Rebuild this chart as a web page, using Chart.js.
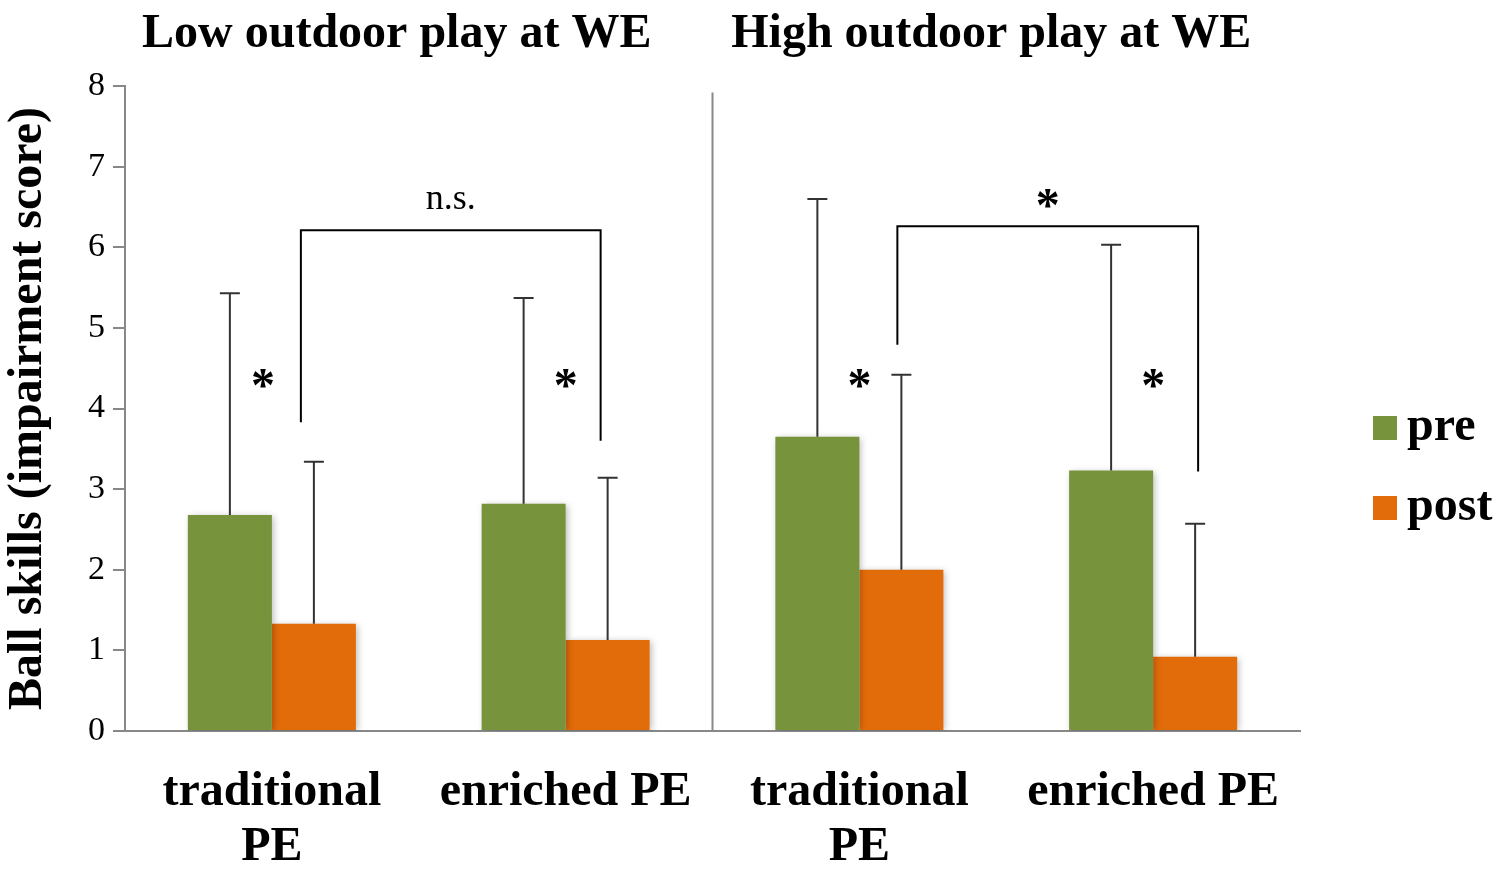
<!DOCTYPE html>
<html>
<head>
<meta charset="utf-8">
<script src="https://cdn.jsdelivr.net/npm/chart.js@4/dist/chart.umd.min.js"></script>
<style>
  html, body { margin: 0; padding: 0; background: #fff; }
  #wrap { width: 1500px; height: 874px; }
</style>
</head>
<body>
<div id="wrap"><canvas id="chart"></canvas></div>
<script>
const categories = [['traditional', 'PE'], 'enriched PE', ['traditional', 'PE'], 'enriched PE']
const preValues = [2.68, 2.82, 3.65, 3.23]
const postValues = [1.33, 1.13, 2.0, 0.92]
const preErrors = [2.75, 2.55, 2.95, 2.8]
const postErrors = [2.01, 2.01, 2.42, 1.65]
const groupTitles = ['Low outdoor play at WE', 'High outdoor play at WE']
const yTicks = [0, 1, 2, 3, 4, 5, 6, 7, 8]

// pre vs post stars per category, and the between-group brackets
const starLevel = 4.3
const brackets = [
    { from: 0, to: 1, top: 6.21, leftEnd: 3.83, rightEnd: 3.6, label: 'n.s.' },
    { from: 2, to: 3, top: 6.26, leftEnd: 4.79, rightEnd: 3.22, label: '*' }
]

const SERIF = '"Liberation Serif", "Times New Roman", serif'
const GREEN = '#77933c'
const ORANGE = '#e36c0a'

const shadowPlugin = {
    id: 'barShadow',
    beforeDatasetsDraw(chart) {
        const c = chart.ctx
        c.save()
        c.shadowColor = 'rgba(0,0,0,0.28)'
        c.shadowBlur = 7
        c.shadowOffsetX = 2
        c.shadowOffsetY = 1
    },
    afterDatasetsDraw(chart) {
        chart.ctx.restore()
    }
}

const extrasPlugin = {
    id: 'extras',
    afterDatasetsDraw(chart) {
        const c = chart.ctx
        const x = chart.scales.x
        const y = chart.scales.y
        const area = chart.chartArea

        // error bars (upper only)
        const errs = [preErrors, postErrors]
        c.save()
        c.strokeStyle = '#333'
        c.lineWidth = 2
        chart.data.datasets.forEach((ds, di) => {
            chart.getDatasetMeta(di).data.forEach((bar, i) => {
                const top = y.getPixelForValue(ds.data[i] + errs[di][i])
                c.beginPath()
                c.moveTo(bar.x, bar.y)
                c.lineTo(bar.x, top)
                c.moveTo(bar.x - 10, top)
                c.lineTo(bar.x + 10, top)
                c.stroke()
            })
        })
        c.restore()

        // divider between the two play groups
        const midX = (x.getPixelForValue(1) + x.getPixelForValue(2)) / 2
        c.save()
        c.strokeStyle = '#888'
        c.lineWidth = 2
        c.beginPath()
        c.moveTo(midX, y.getPixelForValue(7.92))
        c.lineTo(midX, area.bottom)
        c.stroke()
        c.restore()

        // group titles
        c.save()
        c.fillStyle = '#000'
        c.font = 'bold 48px ' + SERIF
        c.textAlign = 'center'
        c.textBaseline = 'middle'
        c.fillText(groupTitles[0], (area.left + midX) / 2 - 22, 35)
        c.fillText(groupTitles[1], (midX + area.right) / 2 - 15, 35)
        c.restore()

        // stars pre vs post
        c.save()
        c.fillStyle = '#000'
        c.font = 'bold 48px ' + SERIF
        c.textAlign = 'center'
        c.textBaseline = 'middle'
        categories.forEach((cat, i) => {
            c.fillText('*', x.getPixelForValue(i) - (i === 0 ? 9 : 0), y.getPixelForValue(starLevel) + 4)
        })
        c.restore()

        // brackets
        const offs = [[29, 35], [38, 45]]
        brackets.forEach((b, bi) => {
            const lx = x.getPixelForValue(b.from) + offs[bi][0]
            const rx = x.getPixelForValue(b.to) + offs[bi][1]
            const ty = y.getPixelForValue(b.top)
            c.save()
            c.strokeStyle = '#000'
            c.lineWidth = 2
            c.beginPath()
            c.moveTo(lx, y.getPixelForValue(b.leftEnd))
            c.lineTo(lx, ty)
            c.lineTo(rx, ty)
            c.lineTo(rx, y.getPixelForValue(b.rightEnd))
            c.stroke()
            c.fillStyle = '#000'
            c.textAlign = 'center'
            c.textBaseline = 'middle'
            if (b.label === '*') {
                c.font = 'bold 48px ' + SERIF
                c.fillText(b.label, (lx + rx) / 2, ty - 18)
            } else {
                c.font = '36px ' + SERIF
                c.fillText(b.label, (lx + rx) / 2, ty - 31)
            }
            c.restore()
        })

        // legend
        c.save()
        c.font = 'bold 48px ' + SERIF
        c.textBaseline = 'middle'
        c.textAlign = 'left'
        chart.data.datasets.forEach((ds, di) => {
            const cy = 428 + di * 80
            c.fillStyle = ds.backgroundColor
            c.fillRect(area.right + 73, cy - 12, 24, 24)
            c.fillStyle = '#000'
            c.fillText(ds.label, area.right + 107, cy)
        })
        c.restore()
    }
}

new Chart(document.getElementById('chart'), {
    type: 'bar',
    data: {
        labels: categories,
        datasets: [
            { label: 'pre', data: preValues, backgroundColor: GREEN },
            { label: 'post', data: postValues, backgroundColor: ORANGE }
        ]
    },
    options: {
        responsive: true,
        maintainAspectRatio: false,
        animation: false,
        layout: { padding: { top: 86, right: 200, left: 0, bottom: 0 } },
        datasets: { bar: { categoryPercentage: 0.572, barPercentage: 1 } },
        plugins: {
            legend: { display: false },
            tooltip: { enabled: false }
        },
        scales: {
            x: {
                grid: { display: true, drawOnChartArea: false, drawTicks: false },
                border: { color: '#888', width: 2 },
                ticks: {
                    color: '#000',
                    padding: 34,
                    maxRotation: 0,
                    autoSkip: false,
                    font: { family: SERIF, size: 48, weight: 'bold', lineHeight: 1.15 }
                },
                afterFit: s => { s.height = 143 }
            },
            y: {
                min: 0,
                max: 8,
                afterBuildTicks: s => { s.ticks = yTicks.map(v => ({ value: v })) },
                grid: { drawOnChartArea: false, drawTicks: true, tickLength: 12, color: '#888', lineWidth: 2 },
                border: { color: '#888', width: 2 },
                ticks: {
                    color: '#000',
                    padding: 8,
                    font: { family: SERIF, size: 34 }
                },
                title: {
                    display: true,
                    text: 'Ball skills (impairment score)',
                    color: '#000',
                    padding: { top: 0, bottom: 0 },
                    font: { family: SERIF, size: 48, weight: 'bold', lineHeight: 1.2 }
                },
                afterFit: s => { s.width = 125 }
            }
        }
    },
    plugins: [shadowPlugin, extrasPlugin]
})
</script>
</body>
</html>
